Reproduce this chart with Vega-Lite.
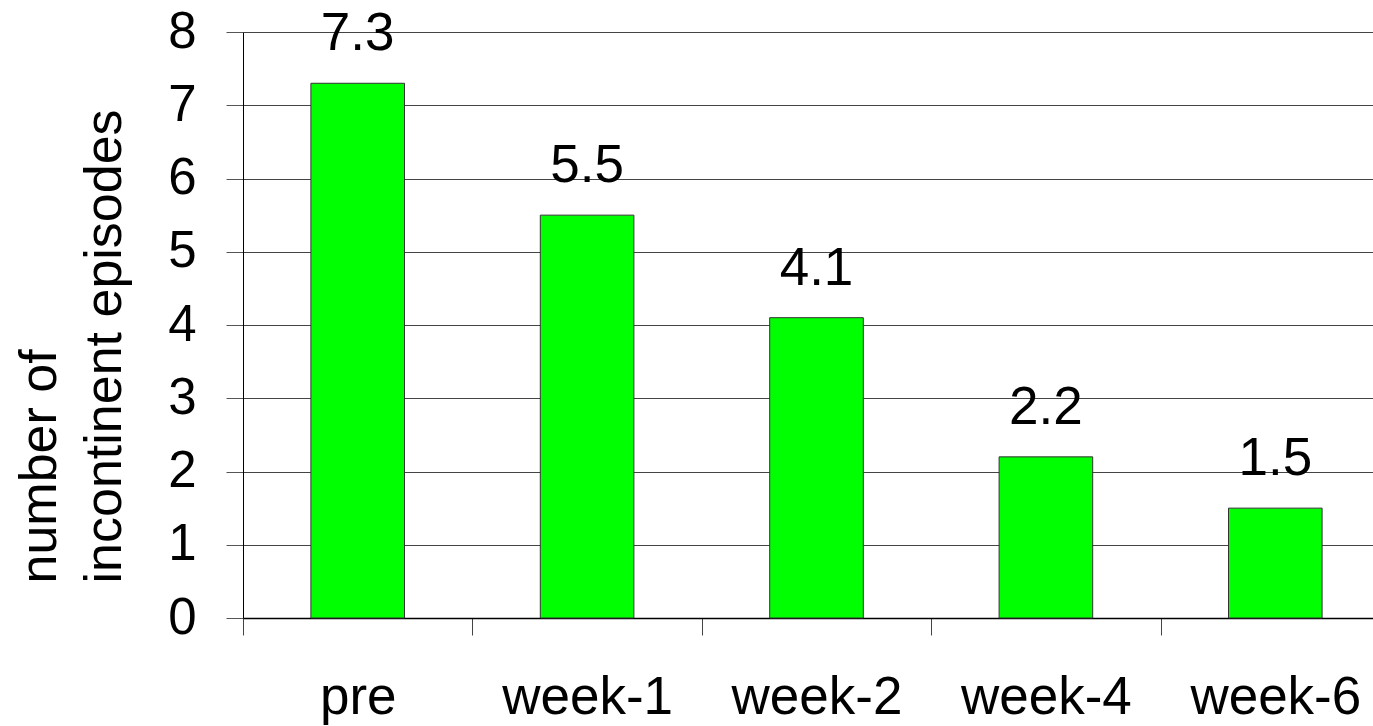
{
  "$schema": "https://vega.github.io/schema/vega-lite/v6.json",
  "autosize": {"type": "none"},
  "padding": {"left": 243, "top": 32, "right": 0, "bottom": 108},
  "width": 1130,
  "height": 586,
  "background": "white",
  "config": {
    "view": {"stroke": null},
    "font": "Liberation Sans",
    "axis": {"labelFont": "Liberation Sans", "titleFont": "Liberation Sans", "labelColor": "black", "titleColor": "black", "titleFontWeight": "normal"}
  },
  "data": {
    "values": [
      {"period": "pre", "episodes": 7.3},
      {"period": "week-1", "episodes": 5.5},
      {"period": "week-2", "episodes": 4.1},
      {"period": "week-4", "episodes": 2.2},
      {"period": "week-6", "episodes": 1.5}
    ]
  },
  "encoding": {
    "x": {
      "field": "period",
      "type": "nominal",
      "sort": null,
      "scale": {"paddingInner": 0, "paddingOuter": 0, "range": [0, 1147]},
      "axis": {
        "title": null,
        "labelAngle": 0,
        "labelFontSize": 53,
        "labelPadding": 36,
        "tickBand": "extent",
        "tickSize": 17,
        "tickColor": "#444",
        "domainColor": "black",
        "domainWidth": 1.5,
        "grid": false
      }
    },
    "y": {
      "field": "episodes",
      "type": "quantitative",
      "scale": {"domain": [0, 8], "nice": false},
      "axis": {
        "values": [0, 1, 2, 3, 4, 5, 6, 7, 8],
        "title": ["number of", "incontinent episodes"],
        "titleFontSize": 52,
        "titleLineHeight": 65,
        "titleAngle": -90,
        "titleAlign": "left",
        "titleBaseline": "alphabetic",
        "titleX": -188,
        "titleY": 551,
        "labelFontSize": 51,
        "labelPadding": 30,
        "tickSize": 17,
        "tickColor": "#555",
        "domainColor": "black",
        "grid": true,
        "gridColor": "#444",
        "gridWidth": 1,
        "gridOpacity": 1
      }
    }
  },
  "layer": [
    {
      "mark": {"type": "bar", "width": {"band": 0.408}, "color": "#00FF00", "stroke": "#333333", "strokeWidth": 1}
    },
    {
      "mark": {"type": "text", "baseline": "alphabetic", "dy": -33, "fontSize": 53, "font": "Liberation Sans", "color": "black"},
      "encoding": {"text": {"field": "episodes", "type": "quantitative", "format": ".1f"}}
    }
  ]
}
